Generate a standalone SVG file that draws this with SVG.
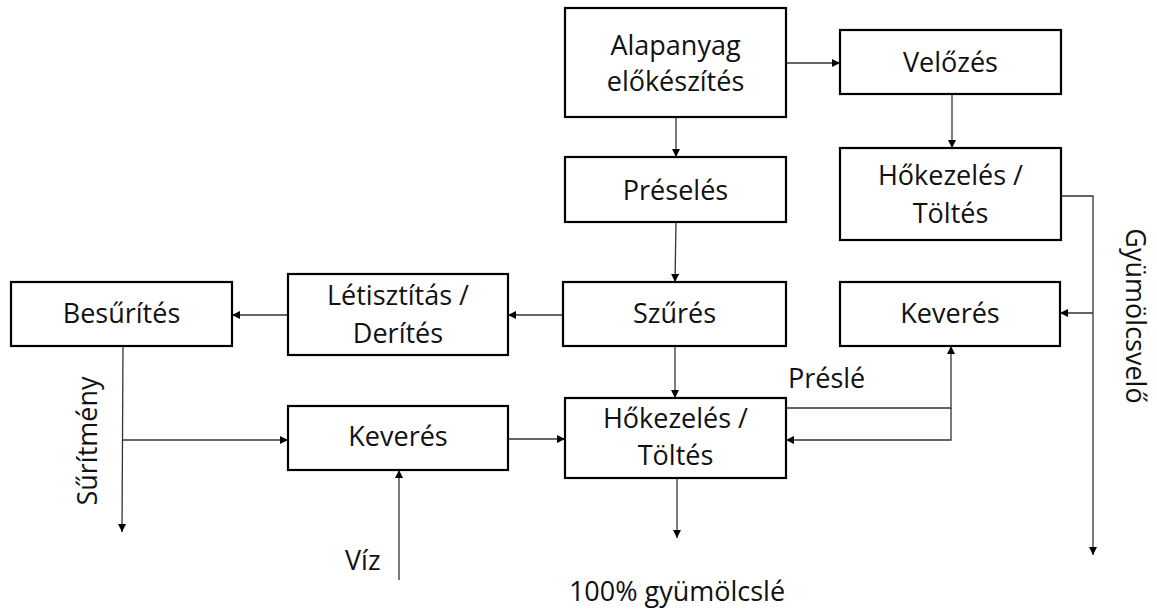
<svg xmlns="http://www.w3.org/2000/svg" width="1157" height="611" viewBox="0 0 1157 611">
<style>
.box{fill:#fff;stroke:#000;stroke-width:2.2}
.t{font-family:"Open Sans","Noto Sans",sans-serif;font-size:27px;fill:#111;text-anchor:middle}
.c{fill:none;stroke:#333;stroke-width:1.3}
</style>
<defs>
<marker id="ah" viewBox="0 0 10 10" refX="10" refY="5" markerWidth="9" markerHeight="8" markerUnits="userSpaceOnUse" orient="auto">
<path d="M0,0 L10,5 L0,10 Z" fill="#000"/>
</marker>
</defs>
<rect width="1157" height="611" fill="#fff"/>
<g id="connectors">
<path class="c" d="M786,63 H840" marker-end="url(#ah)"/>
<path class="c" d="M676,117 V157" marker-end="url(#ah)"/>
<path class="c" d="M952,94 V148" marker-end="url(#ah)"/>
<path class="c" d="M676,222 L675,282" marker-end="url(#ah)"/>
<path class="c" d="M563,315 H508" marker-end="url(#ah)"/>
<path class="c" d="M288,315 H232" marker-end="url(#ah)"/>
<path class="c" d="M675,346 V398" marker-end="url(#ah)"/>
<path class="c" d="M123,346 L122,532" marker-end="url(#ah)"/>
<path class="c" d="M123,440 H288" marker-end="url(#ah)"/>
<path class="c" d="M508,439 H565" marker-end="url(#ah)"/>
<path class="c" d="M399,580 V470" marker-end="url(#ah)"/>
<path class="c" d="M677,478 V538" marker-end="url(#ah)"/>
<path class="c" d="M786,408 H951 V346" marker-end="url(#ah)"/>
<path class="c" d="M951,408 V440 H786" marker-end="url(#ah)"/>
<path class="c" d="M1061,196 H1093 V555" marker-end="url(#ah)"/>
<path class="c" d="M1093,313 H1060" marker-end="url(#ah)"/>
</g>
<g id="alapanyag"><rect class="box" x="565" y="8" width="221" height="109"/><text class="t" x="675.5" y="55">Alapanyag</text><text class="t" x="675.5" y="91">előkészítés</text></g>
<g id="velozes"><rect class="box" x="840" y="30" width="221" height="64"/><text class="t" x="950.5" y="72">Velőzés</text></g>
<g id="hokezeles1"><rect class="box" x="840" y="148" width="221" height="92"/><text class="t" x="950.5" y="185">Hőkezelés /</text><text class="t" x="950.5" y="223">Töltés</text></g>
<g id="preseles"><rect class="box" x="565" y="157" width="221" height="65"/><text class="t" x="675.5" y="200">Préselés</text></g>
<g id="szures"><rect class="box" x="563" y="282" width="223" height="64"/><text class="t" x="674.5" y="323">Szűrés</text></g>
<g id="keveres1"><rect class="box" x="840" y="282" width="220" height="64"/><text class="t" x="950" y="323">Keverés</text></g>
<g id="letisztitas"><rect class="box" x="288" y="274" width="220" height="81"/><text class="t" x="398" y="305">Létisztítás /</text><text class="t" x="398" y="343">Derítés</text></g>
<g id="besurites"><rect class="box" x="11" y="282" width="221" height="64"/><text class="t" x="121.5" y="323">Besűrítés</text></g>
<g id="keveres2"><rect class="box" x="288" y="406" width="220" height="64"/><text class="t" x="398" y="446">Keverés</text></g>
<g id="hokezeles2"><rect class="box" x="565" y="398" width="221" height="80"/><text class="t" x="675.5" y="428">Hőkezelés /</text><text class="t" x="675.5" y="465">Töltés</text></g>
<g id="labels">
<text class="t" x="788" y="388" style="text-anchor:start">Préslé</text>
<text class="t" x="345" y="570" style="text-anchor:start">Víz</text>
<text class="t" x="677" y="601">100% gyümölcslé</text>
<text class="t" transform="translate(97,441) rotate(-90)">Sűrítmény</text>
<text class="t" transform="translate(1126,316) rotate(90)">Gyümölcsvelő</text>
</g>
</svg>
